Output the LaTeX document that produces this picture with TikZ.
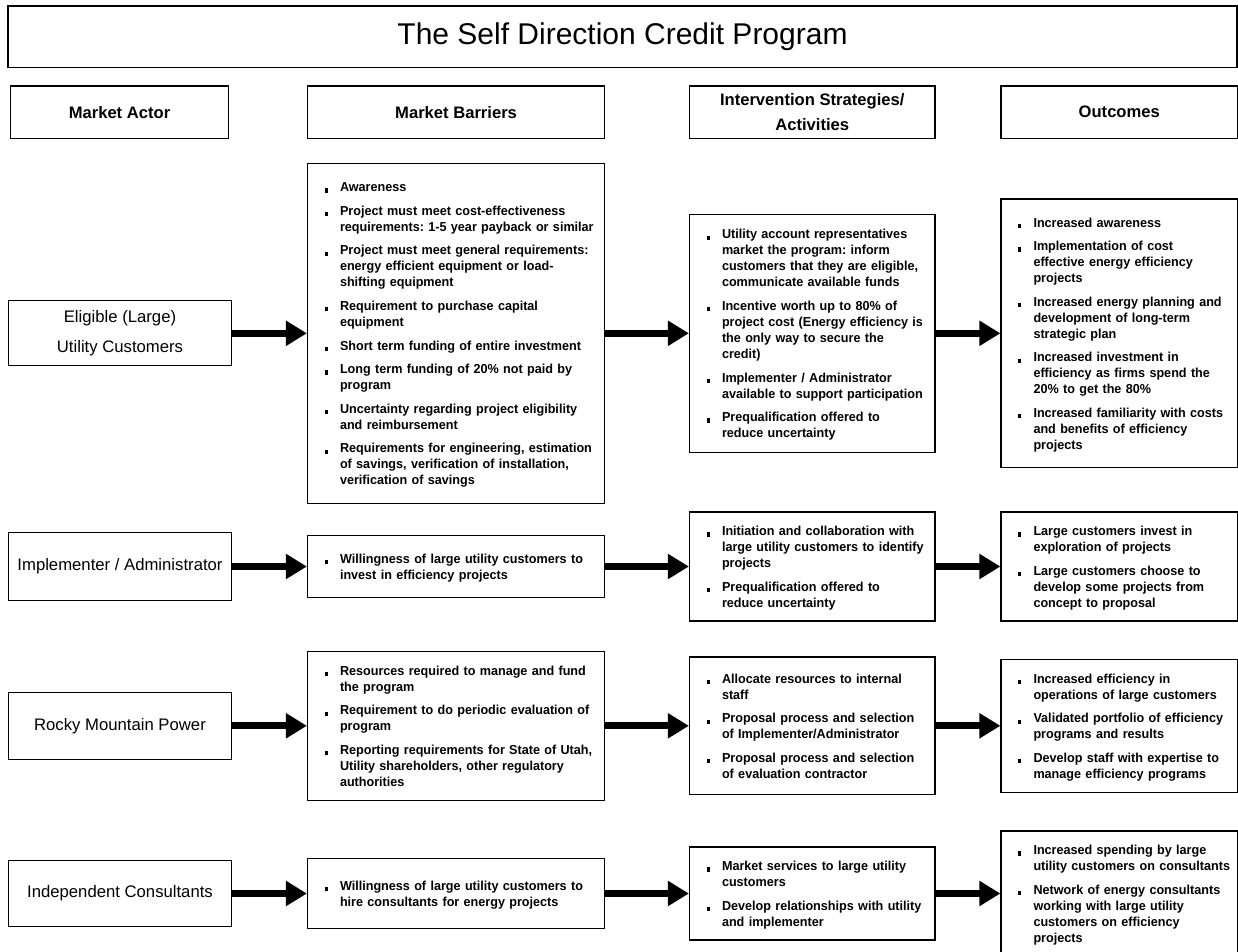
\documentclass[tikz,border=0pt]{standalone}
\usepackage{fontspec}
\setmainfont{Liberation Sans}
\newfontfamily\bodyfont[FakeStretch=0.97]{Liberation Sans}
\usetikzlibrary{arrows.meta}
\frenchspacing
\newcommand\bul{\makebox[15.5pt][l]{\rule[-1pt]{3.2pt}{4.2pt}}}
\newcommand\bitem[1]{\par\noindent\bul\begin{tabular}[t]{@{}l@{}}#1\end{tabular}\par}
\tikzset{
  frame/.style={draw, line width=1.2pt},
  titlebox/.style={frame, minimum width=1229pt, minimum height=61.7pt, inner sep=0pt,
    font=\fontsize{30}{36}\selectfont},
  head/.style={frame, minimum height=52.3pt, inner sep=0pt, align=center,
    font=\bfseries\fontsize{16.6}{25}\selectfont},
  actor/.style={frame, minimum width=223pt, inner sep=0pt, align=center,
    font=\fontsize{16.7}{30}\selectfont},
  list/.style={frame, inner xsep=17pt, inner ysep=0pt, align=left,
    font=\bodyfont\bfseries\fontsize{13}{16}\selectfont,
    execute at begin node={\setlength\parskip{7.6pt}\setlength\lineskip{0pt}\setlength\lineskiplimit{0pt}},
    execute at end node={\par\vspace{9pt}}},
  colB/.style={list, text width=263.2pt},
  colI/.style={list, text width=211.5pt},
  colO/.style={list, text width=202.5pt},
  link/.style={line width=7pt, -{Triangle[length=21pt,width=24pt]}}
}
\begin{document}
\begin{tikzpicture}[x=1pt,y=-1pt]
\useasboundingbox (0,0) rectangle (1238,951);
\node[titlebox] (title) at (622.5,36.85) {The Self Direction Credit Program};
\node[head, minimum width=218pt] (hA) at (119.5,112.15) {Market Actor};
\node[head, minimum width=297.2pt] (hB) at (456.1,112.15) {Market Barriers};
\node[head, minimum width=245.5pt] (hI) at (812.25,112.15) {Intervention Strategies/\\Activities};
\node[head, minimum width=236.5pt] (hO) at (1119.25,112.15) {Outcomes};

% Row 1
\node[actor, minimum height=65pt] (a1) at (120,333.3) {Eligible (Large)\\Utility Customers};
\node[colB, minimum height=340pt] (b1) at (456.1,333.3) {%
\bitem{Awareness}
\bitem{Project must meet cost-effectiveness\\requirements: 1-5 year payback or similar}
\bitem{Project must meet general requirements:\\energy efficient equipment or load-\\shifting equipment}
\bitem{Requirement to purchase capital\\equipment}
\bitem{Short term funding of entire investment}
\bitem{Long term funding of 20\% not paid by\\program}
\bitem{Uncertainty regarding project eligibility\\and reimbursement}
\bitem{Requirements for engineering, estimation\\of savings, verification of installation,\\verification of savings}};
\node[colI, minimum height=238.4pt] (i1) at (812.25,333.3) {%
\bitem{Utility account representatives\\market the program: inform\\customers that they are eligible,\\communicate available funds}
\bitem{Incentive worth up to 80\% of\\project cost (Energy efficiency is\\the only way to secure the\\credit)}
\bitem{Implementer / Administrator\\available to support participation}
\bitem{Prequalification offered to\\reduce uncertainty}};
\node[colO, minimum height=268.7pt] (o1) at (1119.25,333.3) {%
\bitem{Increased awareness}
\bitem{Implementation of cost\\effective energy efficiency\\projects}
\bitem{Increased energy planning and\\development of long-term\\strategic plan}
\bitem{Increased investment in\\efficiency as firms spend the\\20\% to get the 80\%}
\bitem{Increased familiarity with costs\\and benefits of efficiency\\projects}};

% Row 2
\node[actor, minimum height=67.3pt] (a2) at (120,566.5) {Implementer / Administrator};
\node[colB, minimum height=62pt] (b2) at (456.1,566.5) {%
\bitem{Willingness of large utility customers to\\invest in efficiency projects}};
\node[colI, minimum height=107.3pt] (i2) at (812.25,566.5) {%
\bitem{Initiation and collaboration with\\large utility customers to identify\\projects}
\bitem{Prequalification offered to\\reduce uncertainty}};
\node[colO, minimum height=107.3pt] (o2) at (1119.25,566.5) {%
\bitem{Large customers invest in\\exploration of projects}
\bitem{Large customers choose to\\develop some projects from\\concept to proposal}};

% Row 3
\node[actor, minimum height=66.7pt] (a3) at (120,725.8) {Rocky Mountain Power};
\node[colB, minimum height=145pt] (b3) at (456.1,725.8) {%
\bitem{Resources required to manage and fund\\the program}
\bitem{Requirement to do periodic evaluation of\\program}
\bitem{Reporting requirements for State of Utah,\\Utility shareholders, other regulatory\\authorities}};
\node[colI, minimum height=137.6pt] (i3) at (812.25,725.8) {%
\bitem{Allocate resources to internal\\staff}
\bitem{Proposal process and selection\\of Implementer/Administrator}
\bitem{Proposal process and selection\\of evaluation contractor}};
\node[colO, minimum height=133pt] (o3) at (1119.25,725.8) {%
\bitem{Increased efficiency in\\operations of large customers}
\bitem{Validated portfolio of efficiency\\programs and results}
\bitem{Develop staff with expertise to\\manage efficiency programs}};

% Row 4
\node[actor, minimum height=66pt] (a4) at (120,893.5) {Independent Consultants};
\node[colB, minimum height=70.7pt] (b4) at (456.1,893.5) {%
\bitem{Willingness of large utility customers to\\hire consultants for energy projects}};
\node[colI, minimum height=92.3pt] (i4) at (812.25,893.5) {%
\bitem{Market services to large utility\\customers}
\bitem{Develop relationships with utility\\and implementer}};
\node[colO, minimum height=125pt] (o4) at (1119.25,893.5) {%
\bitem{Increased spending by large\\utility customers on consultants}
\bitem{Network of energy consultants\\working with large utility\\customers on efficiency\\projects}};

% Arrows
\foreach \r in {1,2,3,4}{
  \draw[link] (a\r.east) -- (b\r.west);
  \draw[link] (b\r.east) -- (i\r.west);
  \draw[link] (i\r.east) -- (o\r.west);
}
\end{tikzpicture}
\end{document}
